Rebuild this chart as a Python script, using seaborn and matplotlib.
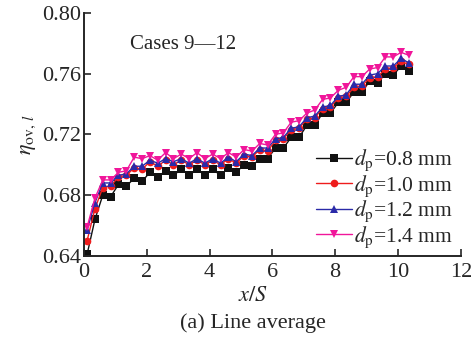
import pandas as pd
import matplotlib
matplotlib.use("Agg")
import matplotlib.pyplot as plt
import seaborn as sns
from matplotlib import rcParams

sns.set_style("ticks")
rcParams['font.family'] = ['Liberation Serif', 'DejaVu Serif']
rcParams['mathtext.fontset'] = 'stix'
rcParams['font.size'] = 14

# x/S positions
x_s = [0.10, 0.35, 0.60, 0.85, 1.10, 1.35, 1.60, 1.85, 2.10, 2.35,
       2.60, 2.85, 3.10, 3.35, 3.60, 3.85, 4.10, 4.35, 4.60, 4.85,
       5.10, 5.35, 5.60, 5.85, 6.10, 6.35, 6.60, 6.85, 7.10, 7.35,
       7.60, 7.85, 8.10, 8.35, 8.60, 8.85, 9.10, 9.35, 9.60, 9.85,
       10.10, 10.35]

eta_08 = [0.641, 0.664, 0.680, 0.679, 0.687, 0.686, 0.691, 0.689, 0.695, 0.692,
          0.696, 0.693, 0.697, 0.693, 0.697, 0.693, 0.697, 0.693, 0.698, 0.695,
          0.700, 0.699, 0.704, 0.704, 0.711, 0.711, 0.718, 0.718, 0.726, 0.726,
          0.734, 0.734, 0.741, 0.741, 0.748, 0.748, 0.755, 0.754, 0.760, 0.759,
          0.765, 0.762]
eta_10 = [0.650, 0.671, 0.685, 0.686, 0.692, 0.693, 0.698, 0.697, 0.702, 0.699,
          0.703, 0.700, 0.703, 0.700, 0.703, 0.700, 0.703, 0.700, 0.704, 0.701,
          0.706, 0.705, 0.710, 0.709, 0.716, 0.717, 0.723, 0.724, 0.730, 0.731,
          0.737, 0.738, 0.744, 0.745, 0.751, 0.752, 0.757, 0.758, 0.763, 0.764,
          0.768, 0.766]
eta_12 = [0.657, 0.675, 0.688, 0.688, 0.693, 0.694, 0.699, 0.699, 0.703, 0.701,
          0.704, 0.702, 0.704, 0.701, 0.704, 0.701, 0.704, 0.701, 0.705, 0.702,
          0.707, 0.706, 0.711, 0.711, 0.717, 0.718, 0.724, 0.725, 0.731, 0.732,
          0.738, 0.739, 0.745, 0.746, 0.753, 0.753, 0.759, 0.760, 0.765, 0.765,
          0.770, 0.767]
eta_14 = [0.659, 0.678, 0.690, 0.690, 0.695, 0.696, 0.705, 0.704, 0.706, 0.703,
          0.708, 0.704, 0.707, 0.704, 0.708, 0.704, 0.707, 0.704, 0.708, 0.705,
          0.710, 0.709, 0.714, 0.713, 0.720, 0.721, 0.728, 0.729, 0.734, 0.736,
          0.743, 0.744, 0.749, 0.751, 0.758, 0.758, 0.763, 0.764, 0.771, 0.771,
          0.774, 0.772]

labels = [r'$d_{\mathrm{p}}$=0.8 mm', r'$d_{\mathrm{p}}$=1.0 mm',
          r'$d_{\mathrm{p}}$=1.2 mm', r'$d_{\mathrm{p}}$=1.4 mm']
series = [eta_08, eta_10, eta_12, eta_14]
colors = ["#111111", "#ee1c1c", "#2a2aa8", "#f0169a"]
markers = ["s", "o", "^", "v"]

x_ticks = [0, 2, 4, 6, 8, 10, 12]
y_ticks = [0.64, 0.68, 0.72, 0.76, 0.80]

fig = plt.figure(figsize=(4.77, 3.38), dpi=100)
ax = fig.add_axes([0.176, 0.243, 0.790, 0.719])

for vals, lab, c, m in zip(series, labels, colors, markers):
    df = pd.DataFrame({'x': x_s, 'eta': vals})
    sns.lineplot(data=df, x='x', y='eta', ax=ax, color=c, marker=m,
                 markersize=5.5, markeredgewidth=0, linewidth=1.0, label=lab)

ax.set_xlim(0, 12)
ax.set_ylim(0.64, 0.80)
ax.set_xticks(x_ticks)
ax.set_yticks(y_ticks)
ax.set_yticklabels([f'{v:.2f}' for v in y_ticks])
ax.tick_params(direction='in', length=5, width=1.2, labelsize=16)
ax.tick_params(axis='x', pad=5)
ax.tick_params(axis='y', pad=2)
sns.despine(ax=ax)
for s in ['left', 'bottom']:
    ax.spines[s].set_linewidth(1.4)

ax.set_xlabel('')
ax.set_ylabel(r'$\eta_{\mathrm{ov},\,l}$', fontsize=16, labelpad=3)
fig.text(0.53, 0.122, r'$x/S$', ha='center', va='center', fontsize=16)
fig.text(0.53, 0.045, '(a) Line average', ha='center', va='center', fontsize=16)

ax.text(0.122, 0.868, 'Cases 9\u201412', transform=ax.transAxes,
        ha='left', va='center', fontsize=15)

ax.legend(loc='upper left', bbox_to_anchor=(0.615, 0.445), frameon=False,
          fontsize=15.5, handlelength=1.7, handletextpad=0.1, labelspacing=0.0,
          borderpad=0, borderaxespad=0)

fig.savefig('out.png', dpi=100)
